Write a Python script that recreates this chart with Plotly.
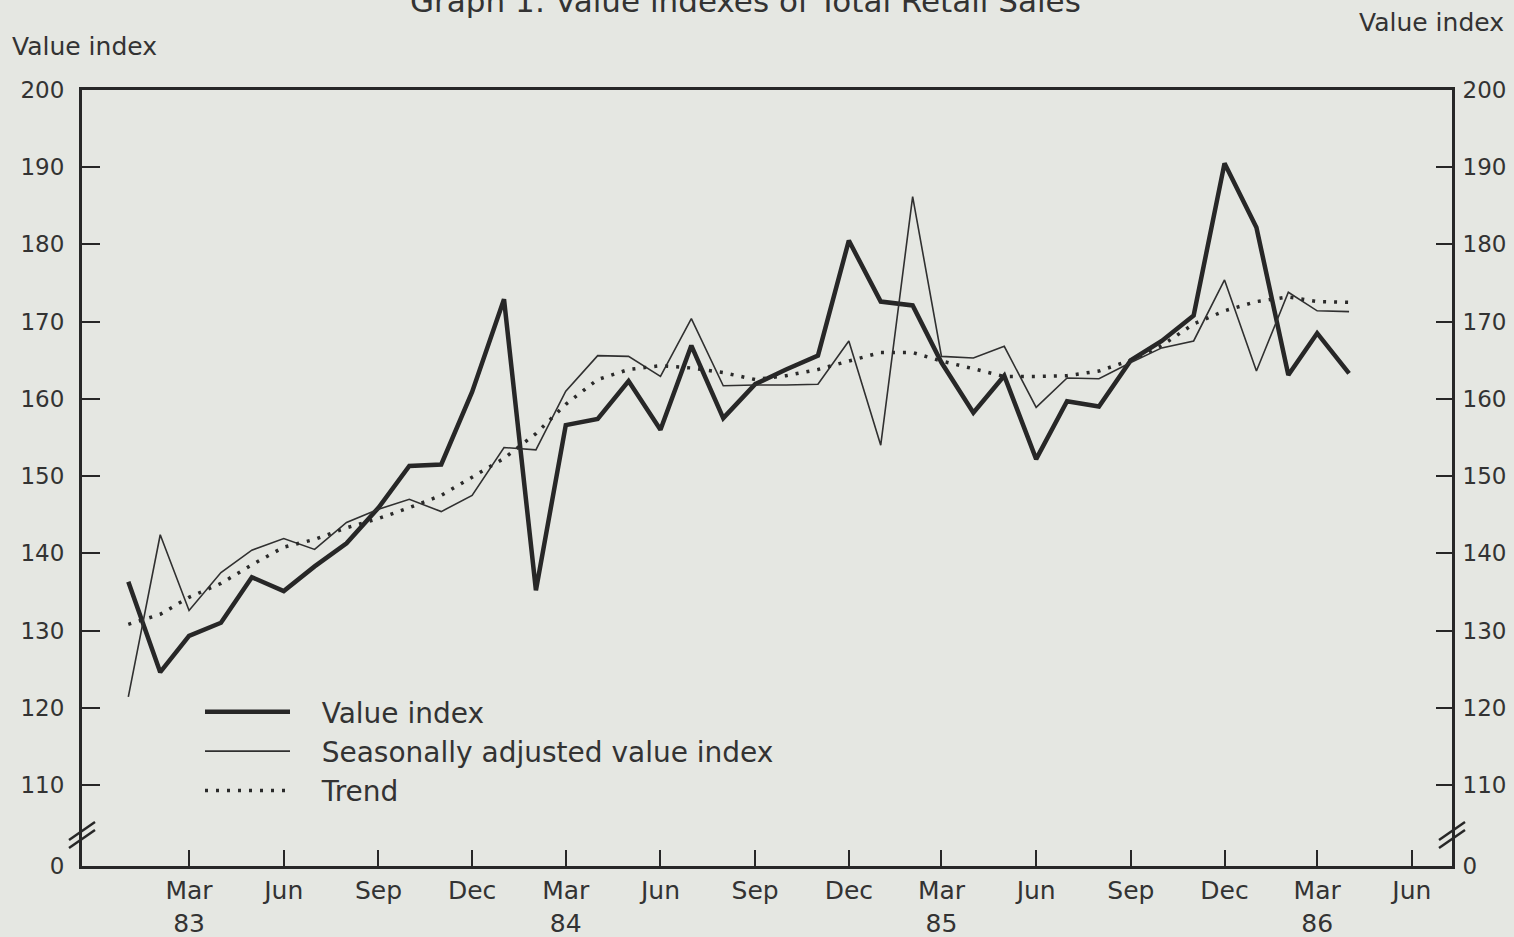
import pandas as pd
import plotly.graph_objects as go

# ---------------- data ----------------
months = pd.date_range("1983-01-01", periods=40, freq="MS")

value_index = [136.3, 124.6, 129.3, 131.0, 136.9, 135.1, 138.3, 141.3, 145.9, 151.3,
               151.5, 160.9, 172.9, 135.2, 156.6, 157.4, 162.3, 156.0, 166.9, 157.5,
               161.9, 163.8, 165.6, 180.5, 172.6, 172.1, 164.7, 158.2, 163.0, 152.2,
               159.7, 159.0, 165.0, 167.5, 170.8, 190.5, 182.2, 163.1, 168.5, 163.3]

seasonally_adjusted = [121.4, 142.4, 132.6, 137.5, 140.4, 141.9, 140.5, 144.0, 145.7, 147.0,
                       145.4, 147.5, 153.7, 153.4, 161.0, 165.6, 165.5, 162.9, 170.4, 161.7,
                       161.8, 161.8, 161.9, 167.5, 154.0, 186.2, 165.5, 165.3, 166.8, 158.9,
                       162.7, 162.6, 164.7, 166.6, 167.5, 175.4, 163.6, 173.8, 171.4, 171.3]

trend = [130.8, 132.1, 134.3, 136.1, 138.5, 140.8, 141.8, 143.3, 144.5, 145.9,
         147.5, 149.8, 152.3, 155.5, 159.3, 162.5, 163.8, 164.3, 164.0, 163.4,
         162.5, 163.0, 163.8, 164.9, 166.0, 166.0, 164.9, 163.9, 162.9, 162.9,
         163.0, 163.6, 165.0, 166.9, 169.7, 171.4, 172.6, 173.2, 172.6, 172.5]

x_tick_dates = ["1983-03-01", "1983-06-01", "1983-09-01", "1983-12-01",
                "1984-03-01", "1984-06-01", "1984-09-01", "1984-12-01",
                "1985-03-01", "1985-06-01", "1985-09-01", "1985-12-01",
                "1986-03-01", "1986-06-01"]
x_tick_labels = ["Mar<br>83", "Jun", "Sep", "Dec",
                 "Mar<br>84", "Jun", "Sep", "Dec",
                 "Mar<br>85", "Jun", "Sep", "Dec",
                 "Mar<br>86", "Jun"]

axis_break_floor = 99.5   # position of the broken-axis "0"
y_tick_vals = [axis_break_floor, 110, 120, 130, 140, 150, 160, 170, 180, 190, 200]
y_tick_labels = ["0", "110", "120", "130", "140", "150", "160", "170", "180", "190", "200"]

series_names = ["Value index", "Seasonally adjusted value index", "Trend"]

# ---------------- styling ----------------
BG = "#e5e7e2"
INK = "#272727"
TXT = "#333333"
FONT = "DejaVu Sans, Verdana, sans-serif"
NB = "\u00a0\u00a0\u00a0"

W, H = 1514, 937
ML, MR, MT, MB = 82, 62, 90, 71
PW, PH = W - ML - MR, H - MT - MB


def px(xp):
    return (xp - ML) / PW


def py(yp):
    return (H - MB - yp) / PH


fig = go.Figure()
fig.add_trace(go.Scatter(x=months, y=value_index, mode="lines", name=NB + series_names[0],
                         line=dict(color=INK, width=4.5)))
fig.add_trace(go.Scatter(x=months, y=seasonally_adjusted, mode="lines",
                         name=NB + series_names[1],
                         line=dict(color="#303030", width=1.6)))
fig.add_trace(go.Scatter(x=months, y=trend, mode="lines", name=NB + series_names[2],
                         line=dict(color="#2a2a2a", width=3.5, dash="3px,8px")))
# right-hand axis carrier
fig.add_trace(go.Scatter(x=[months[0]], y=[None], yaxis="y2", showlegend=False,
                         hoverinfo="skip", mode="lines"))

axis_common = dict(showgrid=False, zeroline=False, showline=True, linewidth=3,
                   linecolor=INK, ticks="inside", tickwidth=2, tickcolor=INK,
                   automargin=False)
yfont = dict(size=23, color=TXT, family=FONT)

fig.update_layout(
    width=W, height=H,
    margin=dict(l=ML, r=MR, t=MT, b=MB, autoexpand=False),
    paper_bgcolor=BG, plot_bgcolor=BG,
    font=dict(family=FONT, color=TXT),
    xaxis=dict(type="date", range=["1982-11-17", "1986-07-10"],
               tickmode="array", tickvals=x_tick_dates, ticktext=x_tick_labels,
               ticklen=16, mirror=True, ticklabelstandoff=0,
               tickfont=dict(size=25, color=TXT, family=FONT), **axis_common),
    yaxis=dict(range=[axis_break_floor, 200], tickmode="array",
               tickvals=y_tick_vals, ticktext=y_tick_labels, ticklen=18,
               ticklabelstandoff=10, tickfont=yfont, **axis_common),
    yaxis2=dict(range=[axis_break_floor, 200], tickmode="array", overlaying="y",
                side="right", tickvals=y_tick_vals, ticktext=y_tick_labels,
                ticklen=16, ticklabelstandoff=3, tickfont=yfont, **axis_common),
    showlegend=True,
    legend=dict(x=px(200), y=py(687), xanchor="left", yanchor="top",
                bgcolor="rgba(0,0,0,0)", font=dict(size=28, color=TXT, family=FONT),
                itemwidth=85, tracegroupgap=0),
)

# titles
fig.add_annotation(text="Graph 1: Value indexes of Total Retail Sales", xref="paper", yref="paper",
                   x=px(745), y=py(1), xanchor="center", yanchor="middle", showarrow=False,
                   font=dict(size=31, color=TXT, family=FONT))
fig.add_annotation(text="Value index", xref="paper", yref="paper", x=px(10), y=py(47),
                   xanchor="left", yanchor="middle", showarrow=False,
                   font=dict(size=25, color=TXT, family=FONT))
fig.add_annotation(text="Value index", xref="paper", yref="paper", x=px(1357), y=py(22),
                   xanchor="left", yanchor="middle", showarrow=False,
                   font=dict(size=25, color=TXT, family=FONT))

# axis-break marks
for ax in (ML, ML + PW):
    for dy in (0, 8):
        fig.add_shape(type="line", xref="paper", yref="paper",
                      x0=px(ax - 13), y0=py(840 + dy), x1=px(ax + 13), y1=py(822 + dy),
                      line=dict(color=INK, width=2.5))

fig.write_html("out.html", config={"displayModeBar": False},
               post_script="document.body.style.margin='0';")
